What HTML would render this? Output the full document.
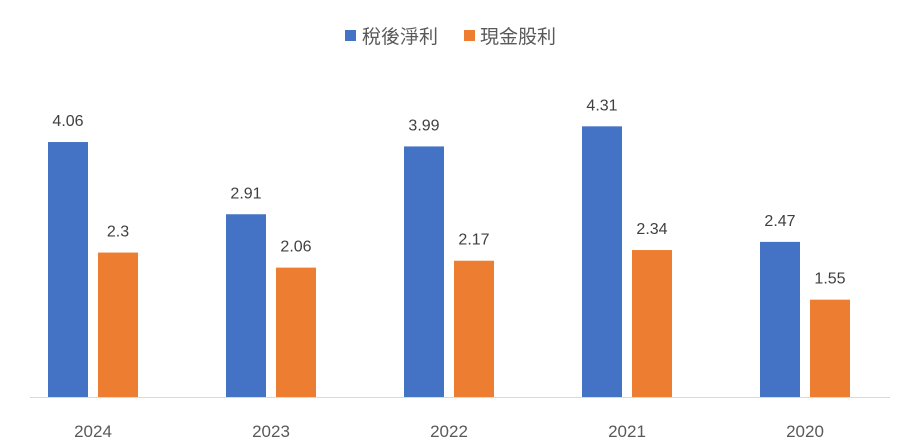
<!DOCTYPE html>
<html><head><meta charset="utf-8"><style>
body{margin:0;background:#fff;}
svg{display:block;font-family:"Liberation Sans","Noto Sans CJK TC",sans-serif;}
</style></head><body>
<svg id="c" width="901" height="444">
<g>
<rect x="345" y="30" width="11" height="11" fill="#4472C4"/>
<text x="362" y="43" font-size="19" fill="#595959">稅後淨利</text>
<rect x="464" y="30" width="11" height="11" fill="#ED7D31"/>
<text x="480" y="43" font-size="19" fill="#595959">現金股利</text>
</g>
<line x1="30" y1="397.5" x2="890" y2="397.5" stroke="#D9D9D9"/>
</svg>
<script>
const categories=["2024","2023","2022","2021","2020"];
const netIncome=[4.06,2.91,3.99,4.31,2.47];
const cashDividend=[2.3,2.06,2.17,2.34,1.55];
const svg=document.getElementById('c');
const NS='http://www.w3.org/2000/svg';
const base=397, scale=62.8, x0=93, step=178, bw=40;
function yv(v){return base-v*scale;}
function xc(i){return x0+i*step;}
function mk(t,a){const e=document.createElementNS(NS,t);for(const k in a)e.setAttribute(k,a[k]);svg.appendChild(e);return e;}
categories.forEach((c,i)=>{
  [[netIncome,'#4472C4',-45,'net-income'],[cashDividend,'#ED7D31',5,'cash-dividend']].forEach(([s,col,off,nm])=>{
    const v=s[i];
    const r=mk('rect',{x:xc(i)+off,y:yv(v),width:bw,height:v*scale,fill:col});
    
    
    const t=mk('text',{x:xc(i)+off+bw/2,y:yv(v)-16,'font-size':16,fill:'#404040','text-anchor':'middle'});
    t.textContent=String(v);
    
    
  });
  const l=mk('text',{x:xc(i),y:437,'font-size':17,fill:'#595959','text-anchor':'middle'});
  l.textContent=c;
  
  
});
</script>
</body></html>
